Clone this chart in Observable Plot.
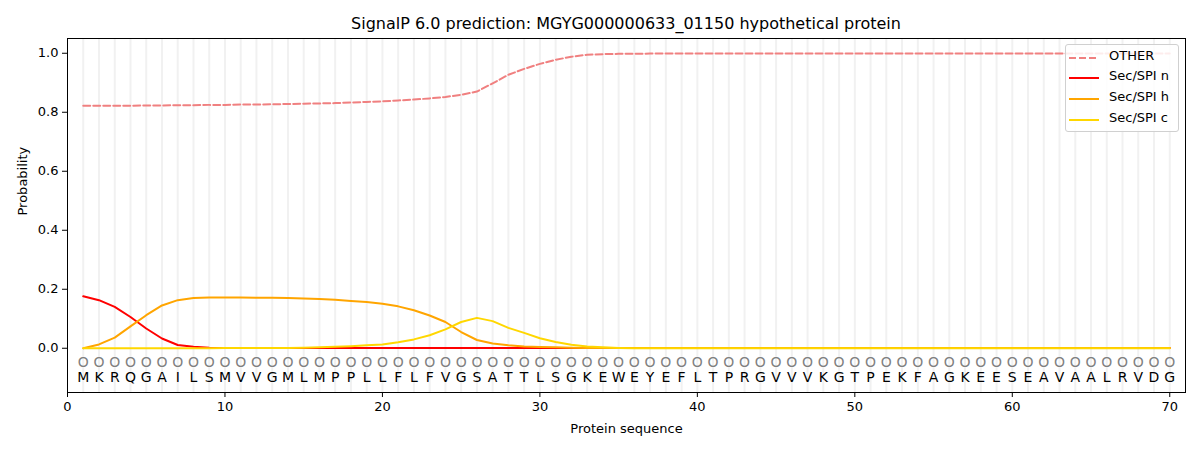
<!DOCTYPE html>
<html>
<head>
<meta charset="utf-8">
<script src="https://cdn.jsdelivr.net/npm/d3@7"></script>
<script src="https://cdn.jsdelivr.net/npm/@observablehq/plot@0.6"></script>
<style>
  body { margin: 0; background: #fff; font-family: "DejaVu Sans", sans-serif; }
  #wrap { position: relative; width: 1200px; height: 450px; }
  #title { position: absolute; left: 626px; top: 14px; transform: translateX(-50%); font-size: 16px; white-space: nowrap; color: #000; }
  #chart { position: absolute; left: 0; top: 38px; }
  #legend { position: absolute; left: 1065px; top: 44px; width: 112px; height: 86px; border: 1px solid #d0d0d0; border-radius: 3px; background: rgba(255,255,255,0.85); font-size: 13px; }
  .row { position: absolute; left: 0; height: 20px; }
  .row svg { position: absolute; left: 3px; top: 4px; }
  .row span { position: absolute; left: 43px; top: 0; white-space: nowrap; }
</style>
</head>
<body>
<div id="wrap">
  <div id="title">SignalP 6.0 prediction: MGYG000000633_01150 hypothetical protein</div>
  <div id="chart"></div>
  <div id="legend"></div>
</div>
<script>
const sequence = ["M","K","R","Q","G","A","I","L","S","M","V","V","G","M","L","M","P","P","L","L","F","L","F","V","G","S","A","T","T","L","S","G","K","E","W","E","Y","E","F","L","T","P","R","G","V","V","V","K","G","T","P","E","K","F","A","G","K","E","E","S","E","A","V","A","A","L","R","V","D","G"];
const other = [0.822,0.822,0.822,0.822,0.823,0.823,0.824,0.824,0.825,0.825,0.826,0.826,0.827,0.828,0.829,0.830,0.831,0.833,0.835,0.837,0.840,0.843,0.847,0.852,0.859,0.870,0.898,0.927,0.947,0.964,0.978,0.988,0.995,0.997,0.998,0.998,0.999,0.999,0.999,0.999,0.999,0.999,0.999,0.999,0.999,0.999,0.999,0.999,0.999,0.999,0.999,0.999,0.999,0.999,0.999,0.999,0.999,0.999,0.999,0.999,0.999,0.999,0.999,0.999,0.999,0.999,0.999,0.999,0.999,0.999];
const secN = [0.176,0.163,0.140,0.106,0.067,0.033,0.011,0.005,0.002,0.001,0.001,0.001,0.001,0.001,0.001,0.001,0.001,0.001,0.001,0.001,0.001,0.001,0.001,0.001,0.001,0.001,0.001,0.001,0.001,0.001,0.001,0.001,0.001,0.001,0.001,0.001,0.001,0.001,0.001,0.001,0.001,0.001,0.001,0.001,0.001,0.001,0.001,0.001,0.001,0.001,0.001,0.001,0.001,0.001,0.001,0.001,0.001,0.001,0.001,0.001,0.001,0.001,0.001,0.001,0.001,0.001,0.001,0.001,0.001,0.001];
const secH = [0.000,0.013,0.036,0.074,0.112,0.145,0.163,0.170,0.172,0.172,0.172,0.171,0.171,0.170,0.169,0.167,0.164,0.160,0.157,0.151,0.142,0.129,0.111,0.089,0.055,0.028,0.016,0.010,0.006,0.004,0.003,0.002,0.001,0.001,0.001,0.001,0.001,0.001,0.001,0.001,0.001,0.001,0.001,0.001,0.001,0.001,0.001,0.001,0.001,0.001,0.001,0.001,0.001,0.001,0.001,0.001,0.001,0.001,0.001,0.001,0.001,0.001,0.001,0.001,0.001,0.001,0.001,0.001,0.001,0.001];
const secC = [0.000,0.000,0.000,0.000,0.000,0.000,0.000,0.000,0.000,0.001,0.001,0.001,0.001,0.001,0.002,0.003,0.005,0.007,0.010,0.013,0.020,0.030,0.044,0.064,0.089,0.103,0.092,0.069,0.052,0.034,0.021,0.012,0.006,0.003,0.001,0.000,0.000,0.000,0.000,0.000,0.000,0.000,0.000,0.000,0.000,0.000,0.000,0.000,0.000,0.000,0.000,0.000,0.000,0.000,0.000,0.000,0.000,0.000,0.000,0.000,0.000,0.000,0.000,0.000,0.000,0.000,0.000,0.000,0.000,0.000];
const xTicks = [0,10,20,30,40,50,60,70];
const yTicks = [0.0,0.2,0.4,0.6,0.8,1.0];

const seriesNames = ["OTHER","Sec/SPI n","Sec/SPI h","Sec/SPI c"];
const seriesColors = ["#f08080","#ff0000","#ffa500","#ffd700"];
const seriesValues = [other, secN, secH, secC];

const positions = sequence.map((_, i) => i + 1);
const rows = seriesNames.flatMap((name, s) =>
  seriesValues[s].map((v, i) => ({series: name, x: i + 1, y: v})));
const residues = sequence.map((aa, i) => ({x: i + 1, aa}));

const chart = Plot.plot({
  width: 1200,
  height: 412,
  marginTop: 0,
  marginBottom: 58,
  marginLeft: 67,
  marginRight: 15,
  style: {fontFamily: "DejaVu Sans, sans-serif", fontSize: "13px", color: "#000", background: "transparent"},
  x: {domain: [0, 71], ticks: xTicks, tickFormat: d3.format("d"), label: null, tickSize: 5},
  y: {domain: [-0.15, 1.05], ticks: yTicks, tickFormat: d3.format(".1f"), label: null, tickSize: 5},
  color: {domain: seriesNames, range: seriesColors},
  marks: [
    Plot.ruleX(positions, {x: d => d, stroke: "#f1f1f1", strokeWidth: 2}),
    Plot.line(rows.filter(d => d.series === "OTHER"), {x: "x", y: "y", stroke: "series", strokeWidth: 2, strokeDasharray: "7,3"}),
    Plot.line(rows.filter(d => d.series !== "OTHER"), {x: "x", y: "y", z: "series", stroke: "series", strokeWidth: 2}),
    Plot.text(residues, {x: "x", y: -0.05, text: () => "O", fill: "#808080", fontSize: 14}),
    Plot.text(residues, {x: "x", y: -0.1, text: "aa", fill: "#000", fontSize: 14}),
    Plot.text(["Protein sequence"], {frameAnchor: "bottom", dy: 40, text: d => d, fontSize: 13, fill: "#000"}),
    Plot.text(["Probability"], {frameAnchor: "left", dx: -45, rotate: -90, text: d => d, fontSize: 13, fill: "#000"}),
    Plot.frame({stroke: "#000", strokeWidth: 1})
  ]
});
document.getElementById("chart").appendChild(chart);

const legend = document.getElementById("legend");
const rowTops = [3, 23, 44, 65];
seriesNames.forEach((name, i) => {
  const row = document.createElement("div");
  row.className = "row";
  row.style.top = rowTops[i] + "px";
  const dash = i === 0 ? 'stroke-dasharray="7,3"' : "";
  row.innerHTML = `<svg width="34" height="12"><line x1="0" y1="6" x2="30" y2="6" stroke="${seriesColors[i]}" stroke-width="2" ${dash}/></svg><span>${name}</span>`;
  legend.appendChild(row);
});
</script>
</body>
</html>
